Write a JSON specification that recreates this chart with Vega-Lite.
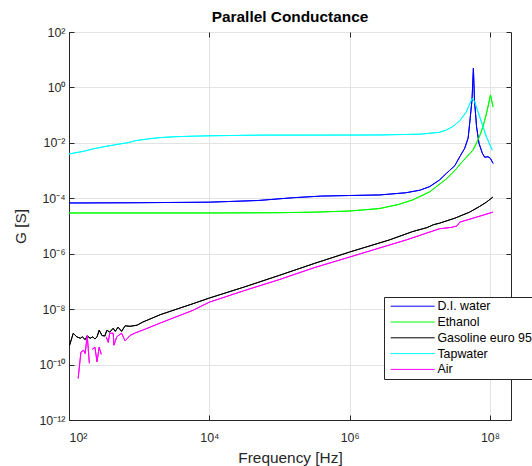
{
  "$schema": "https://vega.github.io/schema/vega-lite/v6.json",
  "autosize": {"type": "none"},
  "width": 442,
  "height": 388,
  "padding": {"left": 69, "top": 32, "right": 21, "bottom": 46},
  "background": "white",
  "title": {"text": "Parallel Conductance", "font": "Liberation Sans", "fontSize": 15.4, "fontWeight": "bold", "color": "black", "anchor": "middle", "offset": 1},
  "config": {
    "view": {"stroke": "#262626", "strokeWidth": 1},
    "axis": {"labelFont": "Liberation Sans", "titleFont": "Liberation Sans", "labelColor": "#262626", "titleColor": "#262626", "domainColor": "#262626", "tickColor": "#262626", "gridColor": "#e3e3e3", "labelFontSize": 12.4, "titleFontSize": 15.4, "titleFontWeight": "normal", "tickSize": -5}
  },
  "data": {"values": [
    {"s": "D.I. water", "seg": 0, "f": 1e2, "g": 6.76e-5},
    {"s": "D.I. water", "seg": 0, "f": 1e3, "g": 6.92e-5},
    {"s": "D.I. water", "seg": 0, "f": 1e4, "g": 7.24e-5},
    {"s": "D.I. water", "seg": 0, "f": 5.01e4, "g": 8.32e-5},
    {"s": "D.I. water", "seg": 0, "f": 1.58e5, "g": 1.05e-4},
    {"s": "D.I. water", "seg": 0, "f": 3.98e5, "g": 1.2e-4},
    {"s": "D.I. water", "seg": 0, "f": 1e6, "g": 1.26e-4},
    {"s": "D.I. water", "seg": 0, "f": 2.69e6, "g": 1.32e-4},
    {"s": "D.I. water", "seg": 0, "f": 6.31e6, "g": 1.58e-4},
    {"s": "D.I. water", "seg": 0, "f": 1.0e7, "g": 1.95e-4},
    {"s": "D.I. water", "seg": 0, "f": 1.38e7, "g": 2.63e-4},
    {"s": "D.I. water", "seg": 0, "f": 1.9e7, "g": 4.5e-4},
    {"s": "D.I. water", "seg": 0, "f": 2.4e7, "g": 7.94e-4},
    {"s": "D.I. water", "seg": 0, "f": 3.16e7, "g": 1.5e-3},
    {"s": "D.I. water", "seg": 0, "f": 3.72e7, "g": 3.16e-3},
    {"s": "D.I. water", "seg": 0, "f": 4.37e7, "g": 6.31e-3},
    {"s": "D.I. water", "seg": 0, "f": 4.9e7, "g": 1.5e-2},
    {"s": "D.I. water", "seg": 0, "f": 5.15e7, "g": 5.01e-2},
    {"s": "D.I. water", "seg": 0, "f": 5.56e7, "g": 0.355},
    {"s": "D.I. water", "seg": 0, "f": 5.82e7, "g": 4.9},
    {"s": "D.I. water", "seg": 0, "f": 6.03e7, "g": 0.355},
    {"s": "D.I. water", "seg": 0, "f": 6.46e7, "g": 3.8e-2},
    {"s": "D.I. water", "seg": 0, "f": 7.0e7, "g": 9.55e-3},
    {"s": "D.I. water", "seg": 0, "f": 7.82e7, "g": 4.17e-3},
    {"s": "D.I. water", "seg": 0, "f": 8.43e7, "g": 3.02e-3},
    {"s": "D.I. water", "seg": 0, "f": 9.4e7, "g": 3.16e-3},
    {"s": "D.I. water", "seg": 0, "f": 1.02e8, "g": 2.75e-3},
    {"s": "D.I. water", "seg": 0, "f": 1.11e8, "g": 1.82e-3},

    {"s": "Ethanol", "seg": 0, "f": 1e2, "g": 2.95e-5},
    {"s": "Ethanol", "seg": 0, "f": 1e4, "g": 2.95e-5},
    {"s": "Ethanol", "seg": 0, "f": 1e5, "g": 3.02e-5},
    {"s": "Ethanol", "seg": 0, "f": 3.16e5, "g": 3.16e-5},
    {"s": "Ethanol", "seg": 0, "f": 1e6, "g": 3.47e-5},
    {"s": "Ethanol", "seg": 0, "f": 2.69e6, "g": 4.27e-5},
    {"s": "Ethanol", "seg": 0, "f": 5.0e6, "g": 6.0e-5},
    {"s": "Ethanol", "seg": 0, "f": 7.94e6, "g": 8.71e-5},
    {"s": "Ethanol", "seg": 0, "f": 1.38e7, "g": 1.7e-4},
    {"s": "Ethanol", "seg": 0, "f": 2.4e7, "g": 5.01e-4},
    {"s": "Ethanol", "seg": 0, "f": 3.16e7, "g": 1e-3},
    {"s": "Ethanol", "seg": 0, "f": 3.98e7, "g": 2.0e-3},
    {"s": "Ethanol", "seg": 0, "f": 5.75e7, "g": 5.5e-3},
    {"s": "Ethanol", "seg": 0, "f": 6.61e7, "g": 1.12e-2},
    {"s": "Ethanol", "seg": 0, "f": 7.41e7, "g": 2.24e-2},
    {"s": "Ethanol", "seg": 0, "f": 8.32e7, "g": 5.62e-2},
    {"s": "Ethanol", "seg": 0, "f": 9.12e7, "g": 0.141},
    {"s": "Ethanol", "seg": 0, "f": 1.02e8, "g": 0.537},
    {"s": "Ethanol", "seg": 0, "f": 1.11e8, "g": 0.2},

    {"s": "Gasoline euro 95", "seg": 0, "f": 1.02e2, "g": 5.01e-10},
    {"s": "Gasoline euro 95", "seg": 0, "f": 1.15e2, "g": 1.35e-9},
    {"s": "Gasoline euro 95", "seg": 0, "f": 1.29e2, "g": 1e-9},
    {"s": "Gasoline euro 95", "seg": 0, "f": 1.45e2, "g": 8.91e-10},
    {"s": "Gasoline euro 95", "seg": 0, "f": 1.55e2, "g": 1e-9},
    {"s": "Gasoline euro 95", "seg": 0, "f": 1.7e2, "g": 7.94e-10},
    {"s": "Gasoline euro 95", "seg": 0, "f": 1.82e2, "g": 1.07e-9},
    {"s": "Gasoline euro 95", "seg": 0, "f": 2.0e2, "g": 8.91e-10},
    {"s": "Gasoline euro 95", "seg": 0, "f": 2.19e2, "g": 1e-9},
    {"s": "Gasoline euro 95", "seg": 0, "f": 2.34e2, "g": 8.32e-10},
    {"s": "Gasoline euro 95", "seg": 0, "f": 2.51e2, "g": 1e-9},
    {"s": "Gasoline euro 95", "seg": 0, "f": 2.69e2, "g": 1.74e-9},
    {"s": "Gasoline euro 95", "seg": 0, "f": 2.95e2, "g": 1.12e-9},
    {"s": "Gasoline euro 95", "seg": 0, "f": 3.24e2, "g": 1.07e-9},
    {"s": "Gasoline euro 95", "seg": 0, "f": 3.47e2, "g": 1.74e-9},
    {"s": "Gasoline euro 95", "seg": 0, "f": 3.8e2, "g": 1.48e-9},
    {"s": "Gasoline euro 95", "seg": 0, "f": 4.27e2, "g": 2.04e-9},
    {"s": "Gasoline euro 95", "seg": 0, "f": 4.57e2, "g": 1.58e-9},
    {"s": "Gasoline euro 95", "seg": 0, "f": 5.01e2, "g": 2.24e-9},
    {"s": "Gasoline euro 95", "seg": 0, "f": 5.62e2, "g": 1.58e-9},
    {"s": "Gasoline euro 95", "seg": 0, "f": 6.31e2, "g": 2.51e-9},
    {"s": "Gasoline euro 95", "seg": 0, "f": 7.41e2, "g": 2.4e-9},
    {"s": "Gasoline euro 95", "seg": 0, "f": 9.33e2, "g": 2.63e-9},
    {"s": "Gasoline euro 95", "seg": 0, "f": 1.12e3, "g": 3.39e-9},
    {"s": "Gasoline euro 95", "seg": 0, "f": 2.0e3, "g": 6.31e-9},
    {"s": "Gasoline euro 95", "seg": 0, "f": 5.89e3, "g": 1.58e-8},
    {"s": "Gasoline euro 95", "seg": 0, "f": 1e4, "g": 2.51e-8},
    {"s": "Gasoline euro 95", "seg": 0, "f": 3.16e4, "g": 6.31e-8},
    {"s": "Gasoline euro 95", "seg": 0, "f": 1e5, "g": 1.66e-7},
    {"s": "Gasoline euro 95", "seg": 0, "f": 3.16e5, "g": 4.47e-7},
    {"s": "Gasoline euro 95", "seg": 0, "f": 1e6, "g": 1.15e-6},
    {"s": "Gasoline euro 95", "seg": 0, "f": 3.72e6, "g": 3.16e-6},
    {"s": "Gasoline euro 95", "seg": 0, "f": 7.94e6, "g": 6.31e-6},
    {"s": "Gasoline euro 95", "seg": 0, "f": 1.26e7, "g": 8.71e-6},
    {"s": "Gasoline euro 95", "seg": 0, "f": 1.58e7, "g": 1.12e-5},
    {"s": "Gasoline euro 95", "seg": 0, "f": 1.91e7, "g": 1.26e-5},
    {"s": "Gasoline euro 95", "seg": 0, "f": 3.16e7, "g": 1.91e-5},
    {"s": "Gasoline euro 95", "seg": 0, "f": 5.13e7, "g": 3.16e-5},
    {"s": "Gasoline euro 95", "seg": 0, "f": 7.08e7, "g": 5.01e-5},
    {"s": "Gasoline euro 95", "seg": 0, "f": 8.91e7, "g": 7.24e-5},
    {"s": "Gasoline euro 95", "seg": 0, "f": 1.1e8, "g": 1.1e-4},

    {"s": "Tapwater", "seg": 0, "f": 1e2, "g": 3.98e-3},
    {"s": "Tapwater", "seg": 0, "f": 1.58e2, "g": 4.9e-3},
    {"s": "Tapwater", "seg": 0, "f": 2.19e2, "g": 6.03e-3},
    {"s": "Tapwater", "seg": 0, "f": 3.16e2, "g": 7.24e-3},
    {"s": "Tapwater", "seg": 0, "f": 5.01e2, "g": 8.91e-3},
    {"s": "Tapwater", "seg": 0, "f": 6.76e2, "g": 1e-2},
    {"s": "Tapwater", "seg": 0, "f": 8.91e2, "g": 1.2e-2},
    {"s": "Tapwater", "seg": 0, "f": 1.41e3, "g": 1.41e-2},
    {"s": "Tapwater", "seg": 0, "f": 2.0e3, "g": 1.55e-2},
    {"s": "Tapwater", "seg": 0, "f": 3.16e3, "g": 1.66e-2},
    {"s": "Tapwater", "seg": 0, "f": 5.89e3, "g": 1.74e-2},
    {"s": "Tapwater", "seg": 0, "f": 1e4, "g": 1.8e-2},
    {"s": "Tapwater", "seg": 0, "f": 5.25e4, "g": 1.9e-2},
    {"s": "Tapwater", "seg": 0, "f": 1e6, "g": 1.91e-2},
    {"s": "Tapwater", "seg": 0, "f": 2.69e6, "g": 1.93e-2},
    {"s": "Tapwater", "seg": 0, "f": 1e7, "g": 2.05e-2},
    {"s": "Tapwater", "seg": 0, "f": 1.91e7, "g": 2.4e-2},
    {"s": "Tapwater", "seg": 0, "f": 2.4e7, "g": 2.9e-2},
    {"s": "Tapwater", "seg": 0, "f": 3.02e7, "g": 4.0e-2},
    {"s": "Tapwater", "seg": 0, "f": 3.72e7, "g": 6.3e-2},
    {"s": "Tapwater", "seg": 0, "f": 4.57e7, "g": 0.126},
    {"s": "Tapwater", "seg": 0, "f": 5.25e7, "g": 0.282},
    {"s": "Tapwater", "seg": 0, "f": 5.62e7, "g": 0.407},
    {"s": "Tapwater", "seg": 0, "f": 6.03e7, "g": 0.316},
    {"s": "Tapwater", "seg": 0, "f": 6.61e7, "g": 0.158},
    {"s": "Tapwater", "seg": 0, "f": 7.16e7, "g": 8.71e-2},
    {"s": "Tapwater", "seg": 0, "f": 8.91e7, "g": 1.66e-2},
    {"s": "Tapwater", "seg": 0, "f": 1.08e8, "g": 5.5e-3},

    {"s": "Air", "seg": 1, "f": 1.35e2, "g": 3.16e-11},
    {"s": "Air", "seg": 1, "f": 1.48e2, "g": 2.82e-10},
    {"s": "Air", "seg": 1, "f": 1.62e2, "g": 3.31e-10},
    {"s": "Air", "seg": 1, "f": 1.7e2, "g": 2.51e-10},
    {"s": "Air", "seg": 1, "f": 1.82e2, "g": 1.12e-9},
    {"s": "Air", "seg": 1, "f": 1.95e2, "g": 1.12e-10},
    {"s": "Air", "seg": 2, "f": 2.14e2, "g": 3.55e-10},
    {"s": "Air", "seg": 2, "f": 2.34e2, "g": 4.27e-10},
    {"s": "Air", "seg": 2, "f": 2.51e2, "g": 1.26e-10},
    {"s": "Air", "seg": 2, "f": 2.69e2, "g": 4.27e-10},
    {"s": "Air", "seg": 2, "f": 2.88e2, "g": 2.34e-10},
    {"s": "Air", "seg": 3, "f": 3.39e2, "g": 1e-9},
    {"s": "Air", "seg": 3, "f": 3.63e2, "g": 6.31e-10},
    {"s": "Air", "seg": 3, "f": 3.8e2, "g": 1.35e-9},
    {"s": "Air", "seg": 3, "f": 4.27e2, "g": 1.35e-9},
    {"s": "Air", "seg": 3, "f": 4.37e2, "g": 5.01e-10},
    {"s": "Air", "seg": 3, "f": 4.79e2, "g": 1e-9},
    {"s": "Air", "seg": 3, "f": 5.62e2, "g": 1.35e-9},
    {"s": "Air", "seg": 3, "f": 6.31e2, "g": 7.08e-10},
    {"s": "Air", "seg": 3, "f": 7.41e2, "g": 1.12e-9},
    {"s": "Air", "seg": 3, "f": 8.91e2, "g": 1.41e-9},
    {"s": "Air", "seg": 3, "f": 1.12e3, "g": 1.74e-9},
    {"s": "Air", "seg": 3, "f": 2.0e3, "g": 3.16e-9},
    {"s": "Air", "seg": 3, "f": 5.89e3, "g": 9.12e-9},
    {"s": "Air", "seg": 3, "f": 1e4, "g": 1.78e-8},
    {"s": "Air", "seg": 3, "f": 3.16e4, "g": 4.68e-8},
    {"s": "Air", "seg": 3, "f": 1e5, "g": 1.17e-7},
    {"s": "Air", "seg": 3, "f": 3.16e5, "g": 3.16e-7},
    {"s": "Air", "seg": 3, "f": 1e6, "g": 7.59e-7},
    {"s": "Air", "seg": 3, "f": 6.46e6, "g": 3.16e-6},
    {"s": "Air", "seg": 3, "f": 1.91e7, "g": 7.94e-6},
    {"s": "Air", "seg": 3, "f": 2.82e7, "g": 8.91e-6},
    {"s": "Air", "seg": 3, "f": 3.39e7, "g": 1e-5},
    {"s": "Air", "seg": 3, "f": 3.72e7, "g": 1.38e-5},
    {"s": "Air", "seg": 3, "f": 6.46e7, "g": 2.09e-5},
    {"s": "Air", "seg": 3, "f": 1.1e8, "g": 3.16e-5}
  ]},
  "layer": [
    {
      "mark": {"type": "line", "strokeWidth": 1, "clip": true},
      "encoding": {
        "x": {"field": "f", "type": "quantitative", "scale": {"type": "log", "domain": [100, 2e8], "nice": false},
          "axis": {"orient": "bottom", "title": "Frequency [Hz]", "titlePadding": 7, "labelPadding": 16, "values": [1e2, 1e4, 1e6, 1e8], "grid": true,
            "labelExpr": "'10' + replace(replace(replace(replace(replace(replace(replace('' + round(log(datum.value)/LN10), '-', '⁻'), '0', '⁰'), '1', '¹'), '2', '²'), '4', '⁴'), '6', '⁶'), '8', '⁸')"}},
        "y": {"field": "g", "type": "quantitative", "scale": {"type": "log", "domain": [1e-12, 100], "nice": false},
          "axis": {"orient": "left", "title": "G [S]", "titlePadding": 10, "labelPadding": 9, "values": [1e-12, 1e-10, 1e-8, 1e-6, 1e-4, 1e-2, 1, 100], "grid": true,
            "labelExpr": "'10' + replace(replace(replace(replace(replace(replace(replace('' + round(log(datum.value)/LN10), '-', '⁻'), '0', '⁰'), '1', '¹'), '2', '²'), '4', '⁴'), '6', '⁶'), '8', '⁸')"}},
        "color": {"field": "s", "type": "nominal",
          "scale": {"domain": ["D.I. water", "Ethanol", "Gasoline euro 95", "Tapwater", "Air"], "range": ["#0000ff", "#00ff00", "#000000", "#00ffff", "#ff00ff"]},
          "legend": {"title": null, "orient": "none", "legendX": 315, "legendY": 265, "symbolType": "M-1,0H7", "symbolSize": 121, "symbolStrokeWidth": 1, "labelFont": "Liberation Sans", "labelFontSize": 12.4, "labelColor": "black", "labelOffset": 35, "strokeColor": "#262626", "fillColor": "white", "padding": 3, "rowPadding": 2.8, "symbolOffset": 3}},
        "detail": {"field": "seg", "type": "nominal"}
      }
    },
    {
      "mark": {"type": "line", "strokeWidth": 1, "clip": true},
      "encoding": {
        "x": {"field": "f", "type": "quantitative", "axis": {"orient": "top", "labels": false, "title": null, "grid": false, "domain": false, "values": [1e2, 1e4, 1e6, 1e8]}},
        "y": {"field": "g", "type": "quantitative", "axis": {"orient": "right", "labels": false, "title": null, "grid": false, "domain": false, "values": [1e-12, 1e-10, 1e-8, 1e-6, 1e-4, 1e-2, 1, 100]}},
        "color": {"field": "s", "type": "nominal", "legend": null},
        "detail": {"field": "seg", "type": "nominal"}
      }
    }
  ],
  "resolve": {"axis": {"x": "independent", "y": "independent"}}
}
